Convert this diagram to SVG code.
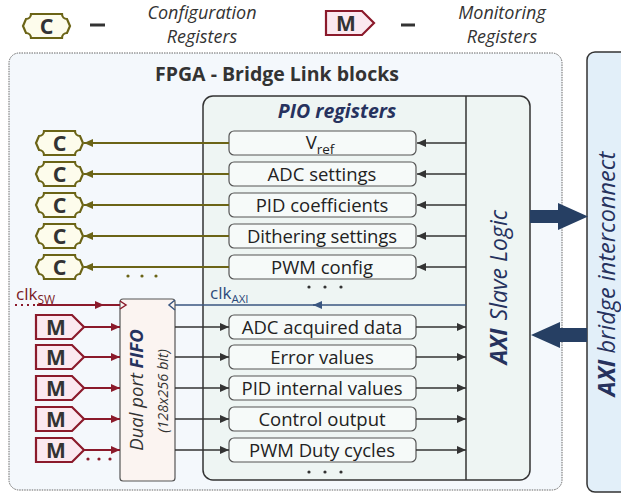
<svg xmlns="http://www.w3.org/2000/svg" width="621" height="493" viewBox="0 0 621 493">
<style>
text{font-family:"Open Sans","DejaVu Sans",sans-serif;}
.reg{fill:#f6faf9;stroke:#555;stroke-width:1.2;}
.rt{font-size:18.5px;fill:#222;text-anchor:middle;}
.cb{fill:#fdfcec;stroke:#6b6416;stroke-width:2.2;}
.mb{fill:#fbe9f0;stroke:#8b1a2b;stroke-width:2.2;}
.bl{font-size:21.5px;font-weight:bold;fill:#333;text-anchor:middle;}
.blk{stroke:#333;stroke-width:1.5;fill:none;}
.olv{stroke:#6b6416;stroke-width:2;fill:none;}
.red{stroke:#8b1a2b;stroke-width:2;fill:none;}
.nav{stroke:#3a5680;stroke-width:1.5;fill:none;}
.leg{font-size:18px;font-style:italic;fill:#333;text-anchor:middle;}
.navy{fill:#26325e;}
</style>
<defs>
<path id="cshape" d="M8,0 H39 A5,5 0 0 0 44,5 L47,12 L44,19 A5,5 0 0 0 39,24 H8 A5,5 0 0 0 3,19 L0,12 L3,5 A5,5 0 0 0 8,0 Z"/>
<path id="mshape" d="M0,0 H36 L48,12 L36,24 H0 Z"/>
<marker id="ab" markerUnits="userSpaceOnUse" markerWidth="10" markerHeight="10" refX="9" refY="5" orient="auto"><path d="M0,1 L9,5 L0,9 Z" fill="#333"/></marker>
<marker id="ao" markerUnits="userSpaceOnUse" markerWidth="10" markerHeight="10" refX="9" refY="5" orient="auto"><path d="M0,1 L9,5 L0,9 Z" fill="#6b6416"/></marker>
<marker id="ar" markerUnits="userSpaceOnUse" markerWidth="10" markerHeight="10" refX="9" refY="5" orient="auto"><path d="M0,1 L9,5 L0,9 Z" fill="#8b1a2b"/></marker>
<marker id="an" markerUnits="userSpaceOnUse" markerWidth="10" markerHeight="10" refX="9" refY="5" orient="auto"><path d="M0,1 L9,5 L0,9 Z" fill="#3a5680"/></marker>
</defs>

<!-- legend -->
<g id="legend">
<use href="#cshape" x="23" y="14" class="cb"/>
<text x="46.5" y="34" class="bl">C</text>
<line x1="90" y1="25" x2="105" y2="25" stroke="#333" stroke-width="3"/>
<text x="202" y="19" class="leg">Configuration</text>
<text x="202" y="43" class="leg">Registers</text>
<use href="#mshape" x="326" y="11" class="mb"/>
<text x="346" y="31" class="bl" style="font-size:21px">M</text>
<line x1="401" y1="25" x2="415" y2="25" stroke="#333" stroke-width="3"/>
<text x="502" y="19" class="leg">Monitoring</text>
<text x="502" y="43" class="leg">Registers</text>
</g>

<!-- outer FPGA box -->
<g id="fpga">
<rect x="9" y="53" width="553" height="437" rx="10" fill="#f4f8fc" stroke="#666" stroke-width="1" stroke-dasharray="1.5 1"/>
<text x="277" y="81" style="font-size:19.5px;font-weight:bold;fill:#333;text-anchor:middle">FPGA - Bridge Link blocks</text>
</g>

<!-- bridge -->
<g id="bridge">
<rect x="587" y="52" width="60" height="440" rx="8" fill="#e2eff9" stroke="#333" stroke-width="1.5"/>
<text transform="translate(615,274) rotate(-90)" style="font-size:23.5px;font-style:italic;text-anchor:middle" class="navy"><tspan font-weight="bold">AXI</tspan> bridge interconnect</text>
</g>

<!-- PIO -->
<g id="pio">
<rect x="203" y="96" width="327" height="384" rx="10" fill="#eef5f3" stroke="#333" stroke-width="1.5"/>
<line x1="466" y1="96" x2="466" y2="480" stroke="#333" stroke-width="1.5"/>
<text x="337" y="118" style="font-size:19.5px;font-weight:bold;font-style:italic;text-anchor:middle" class="navy">PIO registers</text>
<text transform="translate(507,287) rotate(-90)" style="font-size:23px;font-style:italic;text-anchor:middle" class="navy"><tspan font-weight="bold">AXI</tspan><tspan dx="8">Slave Logic</tspan></text>
</g>

<!-- registers -->
<g id="reg-vref"><rect x="229" y="131" width="187" height="24" rx="5" class="reg"/><text x="320" y="149" class="rt">V<tspan dy="5" style="font-size:13.5px">ref</tspan></text></g>
<g id="reg-adcset"><rect x="229" y="162" width="187" height="24" rx="5" class="reg"/><text x="322" y="180.5" class="rt">ADC settings</text></g>
<g id="reg-pidcoef"><rect x="229" y="193" width="187" height="24" rx="5" class="reg"/><text x="322" y="211.5" class="rt">PID coefficients</text></g>
<g id="reg-dither"><rect x="229" y="224" width="187" height="24" rx="5" class="reg"/><text x="322" y="242.5" class="rt" textLength="150">Dithering settings</text></g>
<g id="reg-pwmcfg"><rect x="229" y="255" width="187" height="24" rx="5" class="reg"/><text x="322" y="273.5" class="rt">PWM config</text></g>
<g id="reg-adcacq"><rect x="229" y="315" width="187" height="24" rx="5" class="reg"/><text x="322" y="333.5" class="rt">ADC acquired data</text></g>
<g id="reg-err"><rect x="229" y="345" width="187" height="24" rx="5" class="reg"/><text x="322" y="363.5" class="rt">Error values</text></g>
<g id="reg-pidint"><rect x="229" y="376" width="187" height="24" rx="5" class="reg"/><text x="322" y="394.5" class="rt">PID internal values</text></g>
<g id="reg-ctrl"><rect x="229" y="407" width="187" height="24" rx="5" class="reg"/><text x="322" y="425.5" class="rt">Control output</text></g>
<g id="reg-pwmduty"><rect x="229" y="438" width="187" height="24" rx="5" class="reg"/><text x="322" y="456.5" class="rt">PWM Duty cycles</text></g>

<!-- FIFO -->
<g id="fifo">
<rect x="120" y="299" width="55" height="182" rx="3" fill="#fbf4f1" stroke="#555" stroke-width="1.2"/>
<text transform="translate(143,390) rotate(-90)" style="font-size:18.5px;font-style:italic;fill:#333;text-anchor:middle">Dual port <tspan font-weight="bold" fill="#26325e">FIFO</tspan></text>
<text transform="translate(168,391) rotate(-90)" style="font-size:14.5px;font-style:italic;fill:#333;text-anchor:middle">(128x256 bit)</text>
</g>

<!-- C badges -->
<g id="c1"><use href="#cshape" x="36" y="131" class="cb"/><text x="59.5" y="151" class="bl">C</text></g>
<g id="c2"><use href="#cshape" x="36" y="162" class="cb"/><text x="59.5" y="182" class="bl">C</text></g>
<g id="c3"><use href="#cshape" x="36" y="193" class="cb"/><text x="59.5" y="213" class="bl">C</text></g>
<g id="c4"><use href="#cshape" x="36" y="224" class="cb"/><text x="59.5" y="244" class="bl">C</text></g>
<g id="c5"><use href="#cshape" x="36" y="255" class="cb"/><text x="59.5" y="275" class="bl">C</text></g>

<!-- M badges -->
<g id="m1"><use href="#mshape" x="36" y="315" class="mb"/><text x="56" y="335" class="bl" style="font-size:21px">M</text></g>
<g id="m2"><use href="#mshape" x="36" y="345" class="mb"/><text x="56" y="365" class="bl" style="font-size:21px">M</text></g>
<g id="m3"><use href="#mshape" x="36" y="376" class="mb"/><text x="56" y="396" class="bl" style="font-size:21px">M</text></g>
<g id="m4"><use href="#mshape" x="36" y="407" class="mb"/><text x="56" y="427" class="bl" style="font-size:21px">M</text></g>
<g id="m5"><use href="#mshape" x="36" y="438" class="mb"/><text x="56" y="458" class="bl" style="font-size:21px">M</text></g>

<!-- connectors -->
<g id="connectors">
<line x1="466" y1="143" x2="417" y2="143" class="blk" marker-end="url(#ab)"/>
<line x1="466" y1="174" x2="417" y2="174" class="blk" marker-end="url(#ab)"/>
<line x1="466" y1="205" x2="417" y2="205" class="blk" marker-end="url(#ab)"/>
<line x1="466" y1="236" x2="417" y2="236" class="blk" marker-end="url(#ab)"/>
<line x1="466" y1="267" x2="417" y2="267" class="blk" marker-end="url(#ab)"/>
<line x1="229" y1="143" x2="84" y2="143" class="olv" marker-end="url(#ao)"/>
<line x1="229" y1="174" x2="84" y2="174" class="olv" marker-end="url(#ao)"/>
<line x1="229" y1="205" x2="84" y2="205" class="olv" marker-end="url(#ao)"/>
<line x1="229" y1="236" x2="84" y2="236" class="olv" marker-end="url(#ao)"/>
<line x1="229" y1="267" x2="84" y2="267" class="olv" marker-end="url(#ao)"/>
<line x1="84" y1="327" x2="120" y2="327" class="red" marker-end="url(#ar)"/>
<line x1="84" y1="357" x2="120" y2="357" class="red" marker-end="url(#ar)"/>
<line x1="84" y1="388" x2="120" y2="388" class="red" marker-end="url(#ar)"/>
<line x1="84" y1="419" x2="120" y2="419" class="red" marker-end="url(#ar)"/>
<line x1="84" y1="450" x2="120" y2="450" class="red" marker-end="url(#ar)"/>
<line x1="175" y1="327" x2="229" y2="327" class="blk" marker-end="url(#ab)"/>
<line x1="175" y1="357" x2="229" y2="357" class="blk" marker-end="url(#ab)"/>
<line x1="175" y1="388" x2="229" y2="388" class="blk" marker-end="url(#ab)"/>
<line x1="175" y1="419" x2="229" y2="419" class="blk" marker-end="url(#ab)"/>
<line x1="175" y1="450" x2="229" y2="450" class="blk" marker-end="url(#ab)"/>
<line x1="416" y1="327" x2="466" y2="327" class="blk" marker-end="url(#ab)"/>
<line x1="416" y1="357" x2="466" y2="357" class="blk" marker-end="url(#ab)"/>
<line x1="416" y1="388" x2="466" y2="388" class="blk" marker-end="url(#ab)"/>
<line x1="416" y1="419" x2="466" y2="419" class="blk" marker-end="url(#ab)"/>
<line x1="416" y1="450" x2="466" y2="450" class="blk" marker-end="url(#ab)"/>
<line x1="15" y1="305" x2="37" y2="305" stroke="#8b1a2b" stroke-width="2" stroke-dasharray="2 4"/>
<line x1="37" y1="305" x2="104" y2="305" class="red" marker-end="url(#ar)"/>
<line x1="100" y1="305" x2="120" y2="305" class="red"/>
<path d="M120,301 L126,305 L120,309" fill="none" stroke="#8b1a2b" stroke-width="1.5"/>
<text x="16" y="300" style="font-size:17px;fill:#7a1a24">clk<tspan dy="4" style="font-size:12px">SW</tspan></text>
<line x1="466" y1="305" x2="313" y2="305" class="nav" marker-end="url(#an)"/>
<line x1="316" y1="305" x2="175" y2="305" class="nav"/>
<path d="M175,300 L169,305 L175,310" fill="none" stroke="#3a5680" stroke-width="1.5"/>
<text x="210" y="299" style="font-size:17px;fill:#2c4a7a">clk<tspan dy="4" style="font-size:11.5px">AXI</tspan></text>
<polygon points="530,210 558,210 558,203 588,216.5 558,230 558,223 530,223" fill="#263f63"/>
<polygon points="587,328 560,328 560,322 531,335 560,348 560,342 587,342" fill="#263f63"/>
<g fill="#6b6416"><circle cx="128" cy="276" r="1.6"/><circle cx="142" cy="276" r="1.6"/><circle cx="156" cy="276" r="1.6"/></g>
<g fill="#333"><circle cx="309" cy="287" r="1.6"/><circle cx="325" cy="287" r="1.6"/><circle cx="341" cy="287" r="1.6"/>
<circle cx="309" cy="472" r="1.6"/><circle cx="325" cy="472" r="1.6"/><circle cx="341" cy="472" r="1.6"/></g>
<g fill="#8b1a2b"><circle cx="88" cy="459" r="1.6"/><circle cx="99" cy="459" r="1.6"/><circle cx="110" cy="459" r="1.6"/></g>
</g>
</svg>
